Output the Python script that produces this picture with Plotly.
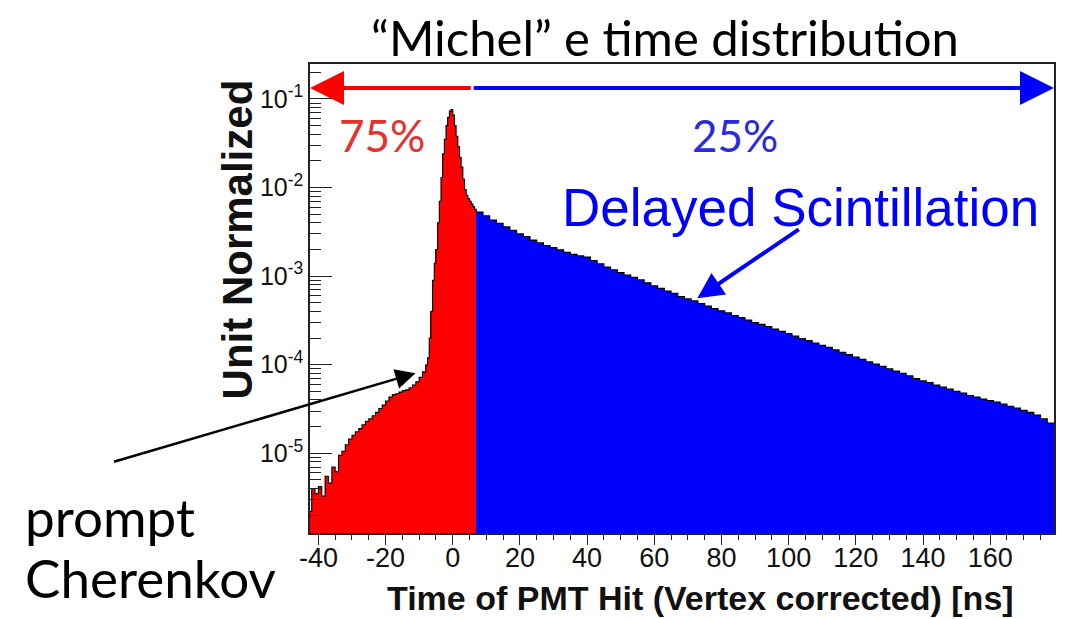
import numpy as np
import plotly.graph_objects as go

# ---------------- data ----------------
# bin layouts in ns
early_lo, early_hi, early_w = -43.0, -8.0, 1.0   # prompt tail, 1 ns bins
peak_lo, peak_hi, peak_w = -8.0, 7.0, 0.5        # Cherenkov peak, 0.5 ns bins
tail_lo, tail_hi, tail_w = 7.0, 179.0, 2.0       # delayed scintillation, 2 ns bins

prompt_early = [
    2.2e-6, 4.0e-6, 3.5e-6, 4.2e-6, 3.3e-6, 5.5e-6, 4.6e-6, 7.0e-6, 6.2e-6, 9.5e-6,
    1.05e-5, 1.25e-5, 1.45e-5, 1.6e-5, 1.75e-5, 1.9e-5, 2.1e-5, 2.3e-5, 2.45e-5, 2.65e-5,
    2.9e-5, 3.2e-5, 3.5e-5, 3.9e-5, 4.3e-5, 4.6e-5, 4.7e-5, 4.9e-5, 5.1e-5, 5.2e-5,
    5.5e-5, 5.9e-5, 6.4e-5, 7.2e-5, 8.3e-5,
]
prompt_peak = [
    1.0e-4, 1.2e-4, 2.0e-4, 4.0e-4, 9.0e-4, 1.4e-3, 2.0e-3, 4.0e-3, 7.0e-3, 1.3e-2,
    2.4e-2, 3.5e-2, 5.0e-2, 6.2e-2, 7.3e-2, 7.6e-2, 6.6e-2, 5.0e-2, 3.8e-2, 2.9e-2,
    2.2e-2, 1.7e-2, 1.25e-2, 9.5e-3, 8.2e-3, 7.5e-3, 7.0e-3, 6.5e-3, 6.1e-3, 5.7e-3,
]
delayed = [
    5.3e-3, 4.8e-3, 4.3e-3, 3.95e-3, 3.6e-3, 3.3e-3, 3.0e-3, 2.8e-3, 2.55e-3, 2.38e-3,
    2.22e-3, 2.1e-3, 1.98e-3, 1.86e-3, 1.76e-3, 1.70e-3, 1.64e-3, 1.50e-3, 1.38e-3, 1.27e-3,
    1.18e-3, 1.10e-3, 1.03e-3, 9.7e-4, 9.1e-4, 8.4e-4, 7.8e-4, 7.3e-4, 6.8e-4, 6.4e-4,
    5.9e-4, 5.55e-4, 5.25e-4, 4.9e-4, 4.6e-4, 4.3e-4, 4.05e-4, 3.85e-4, 3.6e-4, 3.4e-4,
    3.2e-4, 3.0e-4, 2.85e-4, 2.7e-4, 2.52e-4, 2.38e-4, 2.25e-4, 2.1e-4, 1.98e-4, 1.87e-4,
    1.76e-4, 1.66e-4, 1.57e-4, 1.47e-4, 1.38e-4, 1.30e-4, 1.22e-4, 1.15e-4, 1.08e-4, 1.02e-4,
    9.6e-5, 9.0e-5, 8.5e-5, 8.0e-5, 7.5e-5, 7.0e-5, 6.6e-5, 6.3e-5, 5.9e-5, 5.6e-5,
    5.3e-5, 5.0e-5, 4.8e-5, 4.5e-5, 4.3e-5, 4.1e-5, 3.95e-5, 3.8e-5, 3.6e-5, 3.4e-5,
    3.25e-5, 3.05e-5, 2.9e-5, 2.7e-5, 2.45e-5, 2.2e-5,
]

x_tick_vals = [-40, -20, 0, 20, 40, 60, 80, 100, 120, 140, 160]
x_tick_text = ["-40", "-20", "0", "20", "40", "60", "80", "100", "120", "140", "160"]
y_tick_vals = [1e-5, 1e-4, 1e-3, 1e-2, 1e-1]
y_tick_text = ["10<sup>-5</sup>", "10<sup>-4</sup>", "10<sup>-3</sup>", "10<sup>-2</sup>", "10<sup>-1</sup>"]

# ---------------- build bins ----------------
e_early = np.arange(early_lo, early_hi + 1e-9, early_w)
e_peak = np.arange(peak_lo, peak_hi + 1e-9, peak_w)
e_tail = np.arange(tail_lo, tail_hi + 1e-9, tail_w)

red_left = np.concatenate([e_early[:-1], e_peak[:-1]])
red_w = np.concatenate([np.diff(e_early), np.diff(e_peak)])
red_vals = np.array(prompt_early + prompt_peak)
blue_left = e_tail[:-1]
blue_w = np.diff(e_tail)
blue_vals = np.array(delayed)

all_edges = np.concatenate([red_left, blue_left, [e_tail[-1]]])
all_vals = np.concatenate([red_vals, blue_vals])

RED = "#ff0000"
BLUE = "#0000ff"
SANS = "Liberation Sans, Arial, sans-serif"
GILL = "Lato, Open Sans, sans-serif"

fig = go.Figure()
fig.add_trace(go.Bar(x=red_left + red_w / 2, y=red_vals, width=red_w,
                     marker=dict(color=RED, line=dict(width=0)), hoverinfo="skip"))
fig.add_trace(go.Bar(x=blue_left + blue_w / 2, y=blue_vals, width=blue_w,
                     marker=dict(color=BLUE, line=dict(width=0)), hoverinfo="skip"))
fig.add_trace(go.Scatter(x=all_edges, y=np.append(all_vals, all_vals[-1]),
                         mode="lines", line=dict(color="black", width=1.1, shape="hv"),
                         hoverinfo="skip"))

minor_y = [m * 10.0 ** p for p in range(-6, 0) for m in range(2, 10)]

fig.update_layout(
    width=1067, height=619,
    margin=dict(l=310, r=13, t=64, b=86),
    paper_bgcolor="white", plot_bgcolor="white",
    showlegend=False, barmode="overlay", bargap=0,
    xaxis=dict(
        range=[-42.5, 179], showgrid=False, zeroline=False,
        showline=True, linecolor="#222", linewidth=1.5, mirror=True,
        ticks="outside", ticklen=10, tickwidth=1.3, tickcolor="#222",
        tickmode="array", tickvals=x_tick_vals, ticktext=x_tick_text,
        tickfont=dict(family=SANS, size=27, color="#111"),
        ticklabelstandoff=-10,
        minor=dict(ticks="outside", ticklen=5, dtick=5, tick0=0, tickcolor="#222", tickwidth=1.3),
    ),
    yaxis=dict(
        type="log", range=[-5.9, -0.605], showgrid=False, zeroline=False,
        showline=True, linecolor="#222", linewidth=1.5, mirror=True,
        ticks="inside", ticklen=22, tickwidth=1.3, tickcolor="#222",
        tickmode="array", tickvals=y_tick_vals, ticktext=y_tick_text,
        tickfont=dict(family=SANS, size=25, color="#111"),
        minor=dict(ticks="inside", ticklen=11, tickmode="array", tickvals=minor_y,
                   tickcolor="#222", tickwidth=1.3),
    ),
)

ann = []
# title
ann.append(dict(text="\u201cMichel\u201d e time distribution", xref="paper", yref="paper",
                x=0.477, y=1.0576, showarrow=False, xanchor="center", yanchor="middle",
                font=dict(family=GILL, size=49, color="black")))
# axis titles
ann.append(dict(text="<b>Unit Normalized</b>", xref="paper", yref="paper",
                x=-0.0974, y=0.625, textangle=-90, showarrow=False,
                xanchor="center", yanchor="middle",
                font=dict(family=SANS, size=42, color="#111")))
ann.append(dict(text="<b>Time of PMT Hit (Vertex corrected) [ns]</b>", xref="paper", yref="paper",
                x=0.5245, y=-0.1386, showarrow=False, xanchor="center", yanchor="middle",
                font=dict(family=SANS, size=34, color="#111")))
# fraction arrows
ann.append(dict(text="", xref="x", yref="paper", x=-42.5, y=0.9488,
                axref="x", ayref="pixel", ax=5.8, ay=0, showarrow=True,
                arrowhead=2, arrowsize=1.7, arrowwidth=4, arrowcolor=RED))
ann.append(dict(text="", xref="x", yref="paper", x=179, y=0.9488,
                axref="x", ayref="pixel", ax=5.8, ay=0, showarrow=True,
                arrowhead=2, arrowsize=1.7, arrowwidth=4, arrowcolor=BLUE))
ann.append(dict(text="75%", xref="x", yref="y", x=-21.2, y=-1.407, showarrow=False,
                font=dict(family=GILL, size=44, color="#e8302f")))
ann.append(dict(text="25%", xref="x", yref="y", x=84.0, y=-1.407, showarrow=False,
                font=dict(family=GILL, size=44, color="#2a2ae0")))
ann.append(dict(text="Delayed Scintillation", xref="x", yref="y", x=103.5, y=-2.22,
                showarrow=False, font=dict(family=SANS, size=53, color=BLUE)))
ann.append(dict(text="", xref="x", yref="y", x=72.8, y=-3.25, ax=103, ay=-70,
                showarrow=True, arrowhead=2, arrowsize=1.3, arrowwidth=4, arrowcolor=BLUE))
# prompt Cherenkov
ann.append(dict(text="", xref="x", yref="y", x=-11.1, y=-4.096, ax=-303, ay=89,
                showarrow=True, arrowhead=2, arrowsize=1.6, arrowwidth=2.5, arrowcolor="black"))
ann.append(dict(text="prompt", xref="paper", yref="paper", x=-0.386, y=0.036,
                xanchor="left", yanchor="middle", showarrow=False,
                font=dict(family=GILL, size=53, color="black")))
ann.append(dict(text="Cherenkov", xref="paper", yref="paper", x=-0.386, y=-0.094,
                xanchor="left", yanchor="middle", showarrow=False,
                font=dict(family=GILL, size=53, color="black")))
fig.update_layout(annotations=ann)

fig.write_html("out.html")
